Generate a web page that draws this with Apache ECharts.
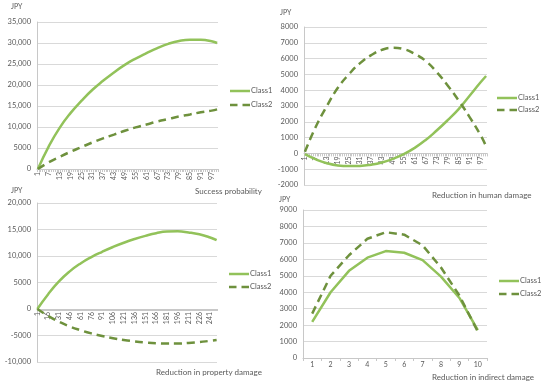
<!DOCTYPE html>
<html>
<head>
<meta charset="utf-8">
<script src="https://cdn.jsdelivr.net/npm/echarts@6/dist/echarts.min.js"></script>
<style>
html,body{margin:0;padding:0;background:#fff;}
#c{width:550px;height:385px;}
</style>
</head>
<body>
<div id="c"></div>
<script>
// ---- Data ----
const seriesNames = ['Class1', 'Class2'];

// Panel 1: Success probability (categories 1..100)
const p1Cats = Array.from({length: 100}, (_, i) => String(i + 1));
const p1X = [1, 7, 13, 19, 25, 31, 37, 43, 49, 55, 61, 67, 73, 79, 85, 91, 97, 100];
const p1Class1 = [0, 5400, 9800, 13300, 16200, 18800, 21000, 23000, 24800, 26300, 27600, 28800, 29800, 30500, 30800, 30750, 30400, 30000];
const p1Class2 = [0, 1600, 2900, 4100, 5200, 6300, 7300, 8200, 9100, 9900, 10600, 11300, 11900, 12500, 13000, 13500, 13900, 14200];

// Panel 2: Reduction in human damage (categories 1..100)
const p2Cats = Array.from({length: 100}, (_, i) => String(i + 1));
const p2X = [1, 7, 13, 19, 25, 31, 37, 43, 49, 55, 61, 67, 73, 79, 85, 91, 97, 100];
const p2Class1 = [-50, -380, -620, -760, -800, -790, -720, -580, -350, -50, 350, 850, 1450, 2100, 2800, 3650, 4500, 4900];
const p2Class2 = [100, 1700, 3000, 4150, 5000, 5700, 6200, 6550, 6680, 6600, 6300, 5850, 5150, 4300, 3350, 2300, 1150, 450];

// Panel 3: Reduction in property damage (categories 1..250)
const p3Cats = Array.from({length: 250}, (_, i) => String(i + 1));
const p3X = [1, 16, 31, 46, 61, 76, 91, 106, 121, 136, 151, 166, 181, 196, 211, 226, 241, 250];
const p3Class1 = [0, 2800, 5200, 7100, 8600, 9800, 10800, 11700, 12500, 13200, 13800, 14300, 14600, 14650, 14450, 14100, 13500, 13000];
const p3Class2 = [0, -1300, -2400, -3300, -4000, -4600, -5100, -5500, -5850, -6100, -6300, -6450, -6500, -6500, -6400, -6250, -6000, -5850];

// Panel 4: Reduction in indirect damage (categories 1..10)
const p4Cats = ['1', '2', '3', '4', '5', '6', '7', '8', '9', '10'];
const p4Class1 = [2200, 4000, 5300, 6100, 6500, 6400, 5950, 4950, 3650, 1700];
const p4Class2 = [2700, 5000, 6250, 7250, 7650, 7500, 6850, 5500, 3800, 1600];

const unitLabel = 'JPY';
const axisTitles = ['Success probability', 'Reduction in human damage', 'Reduction in property damage', 'Reduction in indirect damage'];

// ---- Styles ----
const FONT = 'Lato, "Open Sans", sans-serif';
const TXT = '#595959';
const C1 = '#92c25a';
const C2 = '#6e913d';
const GRID = '#d9d9d9';
const AXIS = '#c8c8c8';

function fmt(v) {
  const a = Math.abs(v);
  let s = a >= 10000 ? a.toLocaleString('en-US') : String(a);
  return (v < 0 ? '-' : '') + s;
}
function pairs(xs, ys) { return xs.map((x, i) => [String(x), ys[i]]); }

const grids = [
  {left: 37, top: 22, width: 181, height: 147},
  {left: 304, top: 27, width: 183, height: 158},
  {left: 37, top: 203, width: 180, height: 159},
  {left: 303, top: 210, width: 184, height: 148}
];
const yRanges = [[0, 35000, 5000], [-2000, 8000, 1000], [-10000, 20000, 5000], [0, 9000, 1000]];

function xAxis(idx, cats, interval, rotate, tickLen) {
  const r = yRanges[idx];
  const zeroOffset = -grids[idx].height * (0 - r[0]) / (r[1] - r[0]);
  return {
    type: 'category', gridIndex: idx, data: cats, boundaryGap: true, position: 'bottom',
    offset: zeroOffset,
    axisLine: {show: true, onZero: false, lineStyle: {color: AXIS, width: 1}},
    axisTick: {show: true, interval: 0, length: tickLen, lineStyle: {color: AXIS}},
    axisLabel: {interval: interval, rotate: rotate, fontSize: 7, color: TXT, fontFamily: FONT, margin: 3},
    splitLine: {show: false}
  };
}
function yAxis(idx) {
  const r = yRanges[idx];
  return {
    type: 'value', gridIndex: idx, min: r[0], max: r[1], interval: r[2],
    axisLine: {show: true, lineStyle: {color: AXIS}},
    axisTick: {show: false},
    axisLabel: {fontSize: 7.5, color: TXT, fontFamily: FONT, margin: 6, formatter: fmt},
    splitLine: {show: true, lineStyle: {color: GRID, width: 1}}
  };
}
function line(idx, name, data, dashed, smooth) {
  return {
    type: 'line', name: name, xAxisIndex: idx, yAxisIndex: idx, data: data,
    smooth: smooth, symbol: 'none', animation: false, z: dashed ? 3 : 2,
    lineStyle: {color: dashed ? C2 : C1, width: 2.5, type: dashed ? [8, 5] : 'solid'},
    itemStyle: {color: dashed ? C2 : C1}
  };
}
const ICON_SOLID = 'path://M0,0H20V2.5H0Z';
const ICON_DASH = 'path://M0,0H7.5V2.5H0Z M12.5,0H20V2.5H12.5Z';
function legend(left, top, gap) {
  return {
    left: left, top: top, orient: 'vertical', itemGap: gap, itemWidth: 20, itemHeight: 2.5,
    padding: 0, selectedMode: false,
    data: [
      {name: seriesNames[0], icon: ICON_SOLID, itemStyle: {color: C1}},
      {name: seriesNames[1], icon: ICON_DASH, itemStyle: {color: C2}}
    ],
    textStyle: {fontSize: 7.5, color: TXT, fontFamily: FONT, padding: [0, 0, 0, -4]}
  };
}
function title(text, left, top, size) {
  return {text: text, left: left, top: top, padding: 0,
    textStyle: {fontSize: size, fontWeight: 'normal', color: TXT, fontFamily: FONT}};
}

const option = {
  backgroundColor: '#fff',
  animation: false,
  grid: grids,
  xAxis: [
    xAxis(0, p1Cats, 5, 90, 3),
    xAxis(1, p2Cats, 5, 90, 3),
    xAxis(2, p3Cats, 14, 90, 2),
    xAxis(3, p4Cats, 0, 0, 3)
  ],
  yAxis: [yAxis(0), yAxis(1), yAxis(2), yAxis(3)],
  legend: [legend(230, 87, 6), legend(497, 94, 4), legend(229, 270, 5), legend(499, 277, 5)],
  title: [
    title(unitLabel, 11, 3, 7), title(unitLabel, 280, 9, 7), title(unitLabel, 11, 187, 7), title(unitLabel, 279, 196, 7),
    title(axisTitles[0], 195, 187, 8), title(axisTitles[1], 432, 191, 8),
    title(axisTitles[2], 156, 368, 8), title(axisTitles[3], 432, 373, 8)
  ],
  series: [
    line(0, 'Class1', pairs(p1X, p1Class1), false, true),
    line(0, 'Class2', pairs(p1X, p1Class2), true, true),
    line(1, 'Class1', pairs(p2X, p2Class1), false, true),
    line(1, 'Class2', pairs(p2X, p2Class2), true, true),
    line(2, 'Class1', pairs(p3X, p3Class1), false, true),
    line(2, 'Class2', pairs(p3X, p3Class2), true, true),
    line(3, 'Class1', p4Class1, false, false),
    line(3, 'Class2', p4Class2, true, false)
  ]
};
const chart = echarts.init(document.getElementById('c'), null, {renderer: 'canvas'});
chart.setOption(option);
</script>
</body>
</html>
